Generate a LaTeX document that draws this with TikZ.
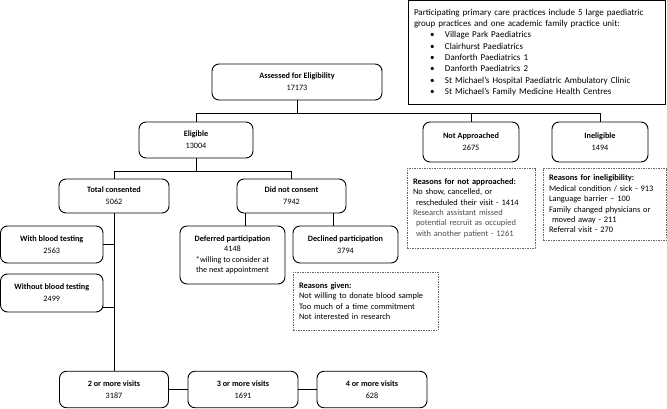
\documentclass[tikz,border=0pt]{standalone}
\usepackage{fontspec}
\setmainfont{Carlito}
\usepackage{tikz}
\usetikzlibrary{positioning}

\newcommand{\practice}[1]{\makebox[31pt][l]{\hspace*{16pt}\textbullet}#1}

\begin{document}
\begin{tikzpicture}[x=1pt, y=-1pt, line width=0.9pt,
    box/.style={draw, rounded corners=7pt, align=center, inner sep=0pt, font=\fontsize{8.2}{12}\selectfont},
    note/.style={draw=black!60, dash pattern=on 1.5pt off 1pt, line width=0.7pt, align=left, inner xsep=6pt, inner ysep=0pt, font=\fontsize{8.4}{10.4}\selectfont}]
    \useasboundingbox (0,0) rectangle (667,409);

    % practices taking part
    \node[draw, align=left, inner xsep=6pt, inner ysep=0pt, minimum width=257, minimum height=104, text width=245, font=\fontsize{9}{11.3}\selectfont] (practices) at (536.5,52.5) {
        Participating primary care practices include 5 large paediatric\\
        group practices and one academic family practice unit:\\
        \practice{Village Park Paediatrics}\\
        \practice{Clairhurst Paediatrics}\\
        \practice{Danforth Paediatrics 1}\\
        \practice{Danforth Paediatrics 2}\\
        \practice{St Michael’s Hospital Paediatric Ambulatory Clinic}\\
        \practice{St Michael’s Family Medicine Health Centres}
    };

    % top level
    \node[box, minimum width=170, minimum height=36] (assess) at (297,82) {\textbf{Assessed for Eligibility}\\17173};
    \node[box, minimum width=114, minimum height=36] (elig) at (196,140) {\textbf{Eligible}\\13004};
    \node[box, minimum width=96, minimum height=40] (notappr) at (471,142) {\textbf{Not Approached}\\2675};
    \node[box, minimum width=96, minimum height=40] (inelig) at (600,142) {\textbf{Ineligible}\\1494};

    \draw (assess.south) -- ++(0,13) coordinate (split);
    \draw (elig.north) |- (split) -| (inelig.north);
    \draw (notappr.north) -- (notappr.north |- split);

    % reasons on the right
    \node[note, minimum width=128, minimum height=80, text width=116] (whynot) at (471,208) {
        \textbf{Reasons for not approached:}\\
        No show, cancelled, or\\
        \hspace*{3pt}rescheduled their visit - 1414\\
        {\color{black!70}Research assistant missed}\\
        {\color{black!70}\hspace*{3pt}potential recruit as occupied}\\
        {\color{black!70}\hspace*{3pt}with another patient - 1261}
    };
    \node[note, minimum width=123.5, minimum height=72, text width=111.5] (whyinelig) at (604.75,204) {
        \textbf{Reasons for ineligibility:}\\
        Medical condition / sick - 913\\
        Language barrier -- 100\\
        Family changed physicians or\\
        \hspace*{3pt}moved away - 211\\
        Referral visit - 270
    };

    % consent
    \node[box, minimum width=110, minimum height=34] (total) at (114,196) {\textbf{Total consented}\\5062};
    \node[box, minimum width=109, minimum height=34] (nocons) at (291.5,196) {\textbf{Did not consent}\\7942};

    \draw (elig.south) -- ++(0,13) coordinate (split2);
    \draw (total.north) |- (split2) -| (nocons.north);

    % did not consent
    \node[box, minimum width=105, minimum height=58, font=\fontsize{8.2}{10.5}\selectfont] (deferred) at (232.5,255) {\textbf{Deferred participation}\\4148\\*willing to consider at\\the next appointment};
    \node[box, minimum width=105, minimum height=37] (declined) at (345.5,244.5) {\textbf{Declined participation}\\3794};

    \draw ([xshift=12.5pt]deferred.north) -- ([xshift=12.5pt]deferred.north |- nocons.south);
    \draw ([xshift=-12.5pt]declined.north) -- ([xshift=-12.5pt]declined.north |- nocons.south);

    \node[note, minimum width=145, minimum height=58, text width=133] (whydecl) at (365.5,301) {
        \textbf{Reasons given:}\\
        Not willing to donate blood sample\\
        Too much of a time commitment\\
        Not interested in research
    };

    % consented
    \node[box, minimum width=102.5, minimum height=37] (withb) at (51.75,244.5) {\textbf{With blood testing}\\2563};
    \node[box, minimum width=102.5, minimum height=38] (without) at (51.75,293) {\textbf{Without blood testing}\\2499};

    % visits
    \node[box, minimum width=109, minimum height=36.5] (visits2) at (114,389.5) {\textbf{2 or more visits}\\3187};
    \node[box, minimum width=110, minimum height=36.5] (visits3) at (243,389.5) {\textbf{3 or more visits}\\1691};
    \node[box, minimum width=110, minimum height=36.5] (visits4) at (372,389.5) {\textbf{4 or more visits}\\628};

    \draw (total.south) -- (total.south |- visits2.north);
    \draw (withb.east) -- (withb.east -| total.south);
    \draw ([yshift=-14pt]without.east) -- ([yshift=-14pt]without.east -| total.south);
    \draw (visits2.east) -- (visits3.west);
    \draw (visits3.east) -- (visits4.west);
\end{tikzpicture}
\end{document}
